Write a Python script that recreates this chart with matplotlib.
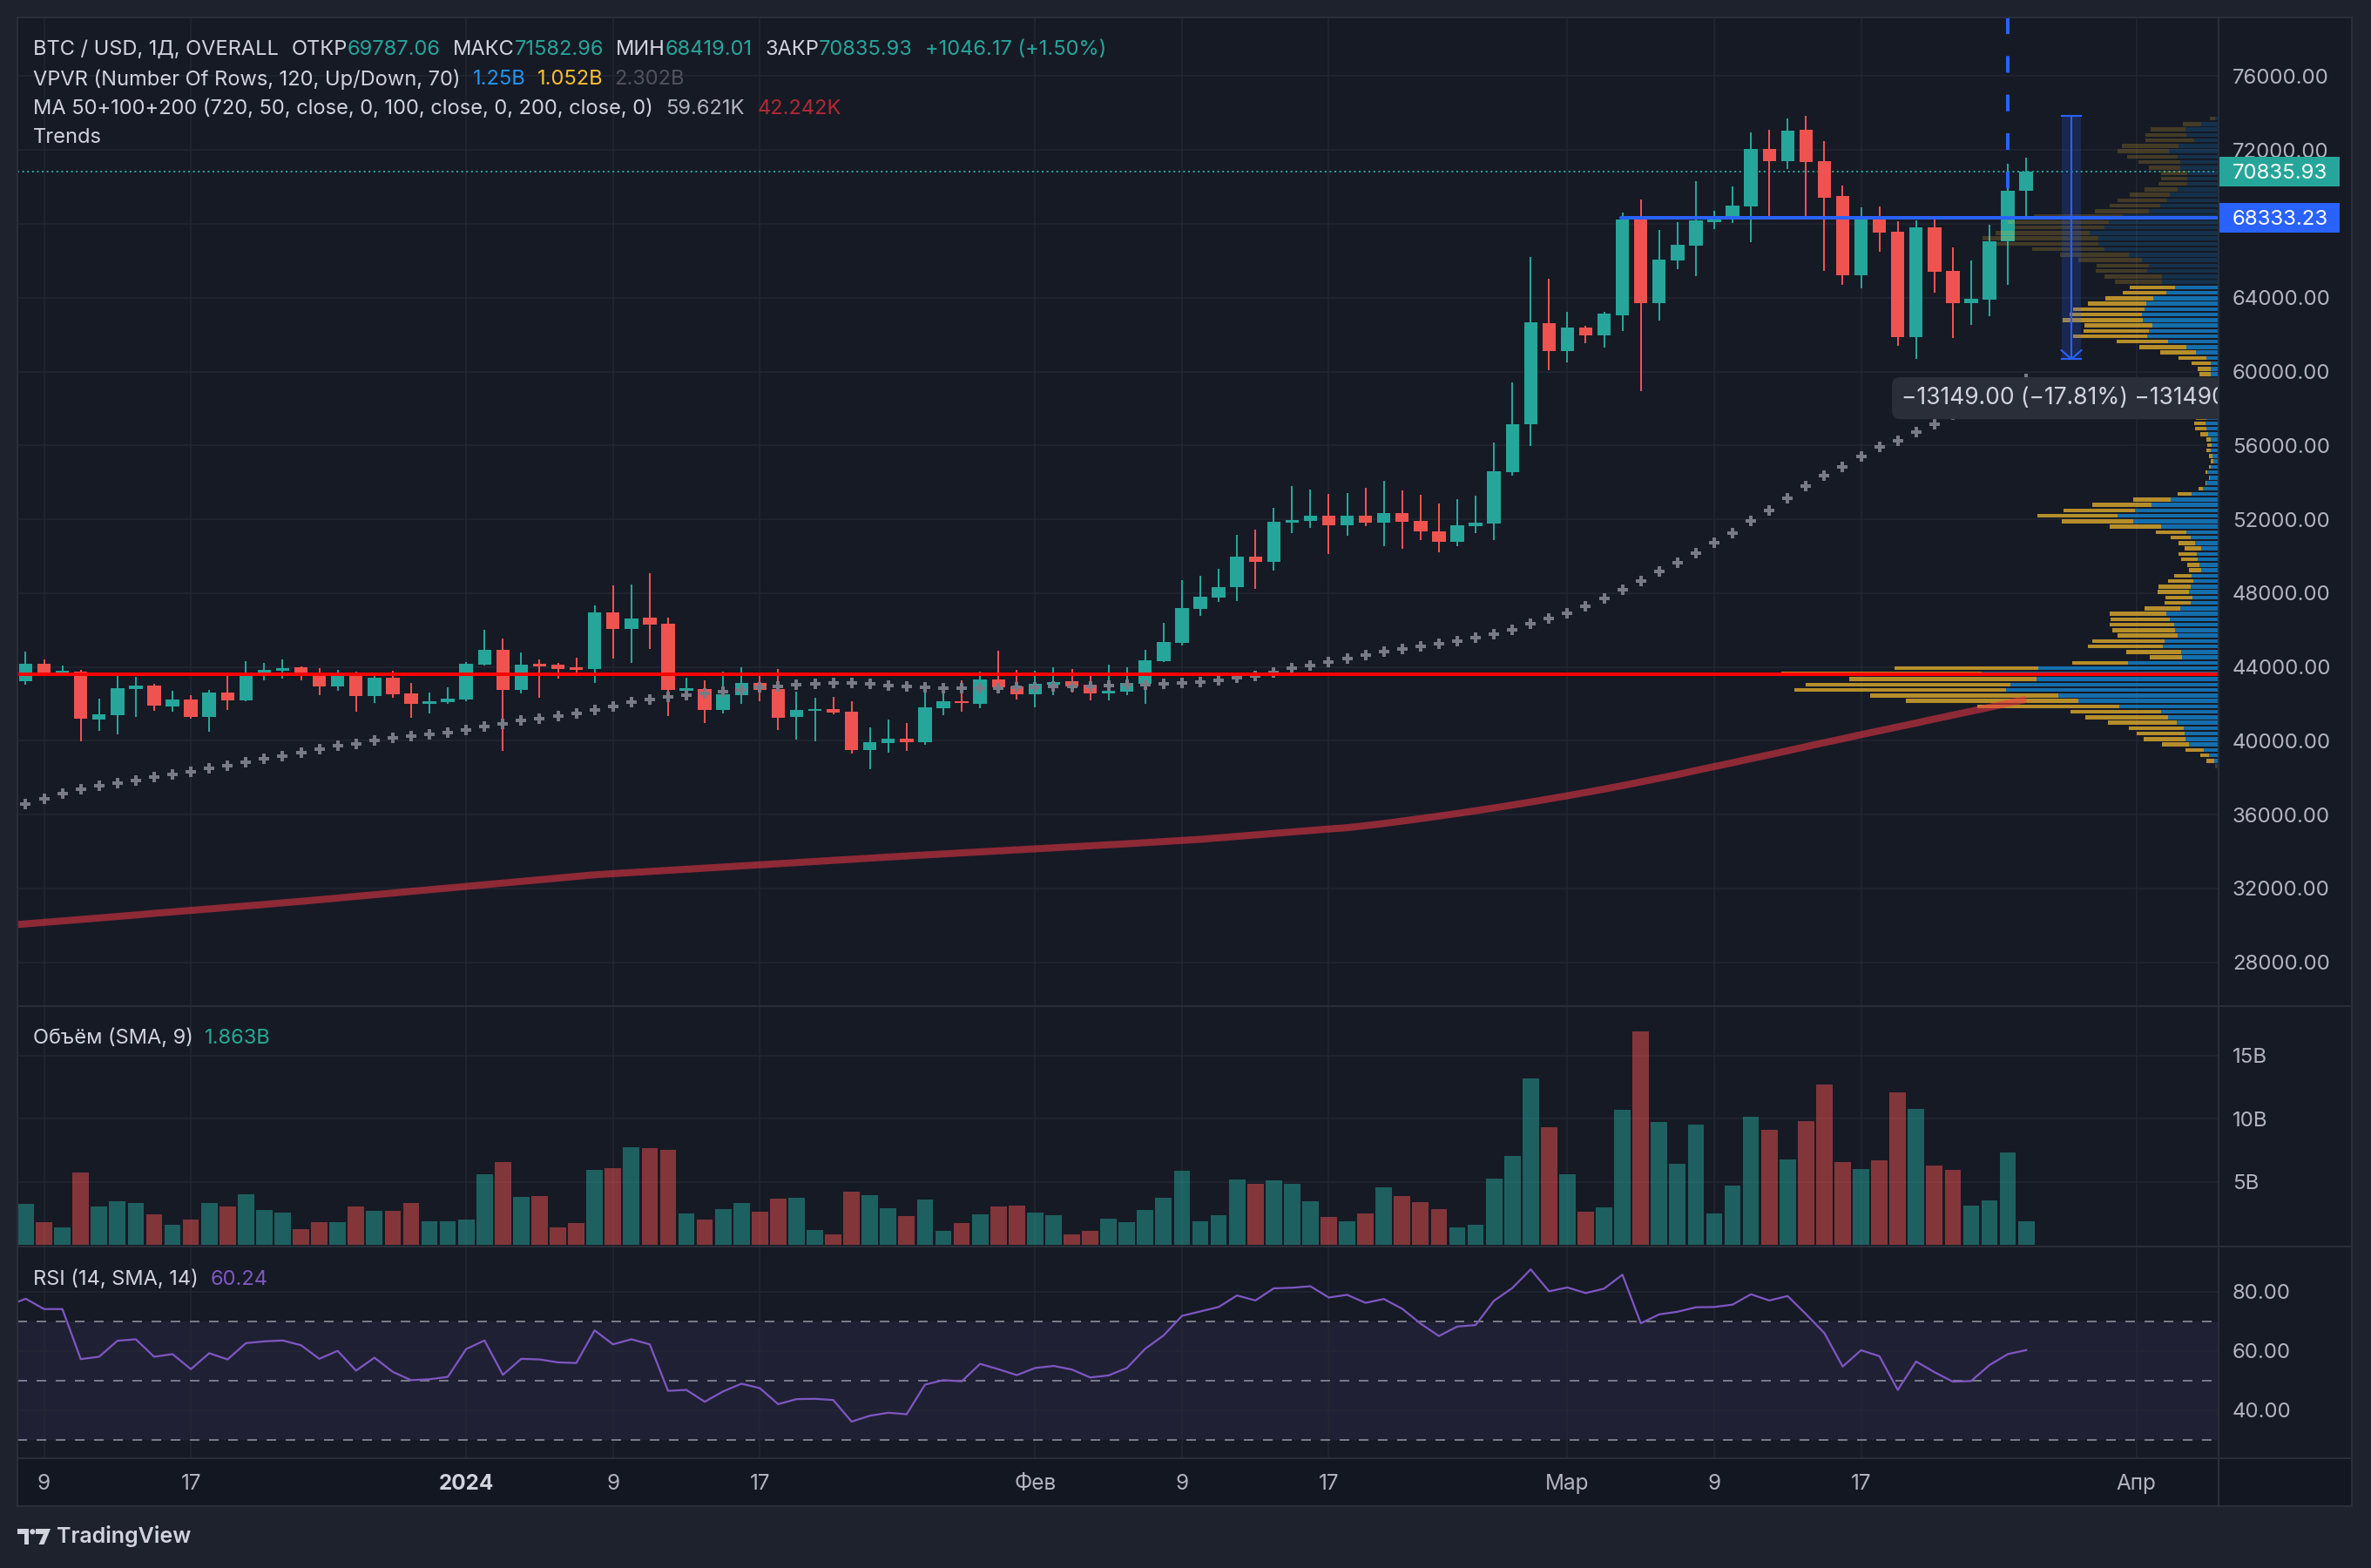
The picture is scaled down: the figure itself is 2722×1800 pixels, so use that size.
import matplotlib
matplotlib.use("Agg")
import matplotlib.pyplot as plt
import matplotlib.transforms as mtransforms
from matplotlib.colors import to_rgba
from matplotlib.lines import Line2D
from matplotlib.patches import Rectangle, Polygon, Ellipse
from matplotlib.ticker import FormatStrFormatter
import numpy as np
import pandas as pd

plt.rcParams["font.family"] = ["Inter", "DejaVu Sans"]

# ---------------- data (daily bars, Dec 7 2023 .. Mar 26 2024) ----------------
dates = pd.date_range("2023-12-07", "2024-03-26", freq="D")

opens = [43770,
         43242, 44170, 43698, 43745, 41150, 41401, 42801, 42990, 41873, 42235,
         41307, 42613, 42204, 43698, 43808, 43981, 43698, 42943, 43698, 42424,
         43415, 42566, 42000, 42093, 42235, 44123, 44925, 42754, 44170, 44123,
         43981, 43887, 46954, 46057, 46666, 46340, 42707, 42801, 41669, 42471,
         43132, 42801, 41292, 41622, 41716, 41575, 39498, 39876, 40112, 39923,
         41763, 42140, 42010, 43320, 42947, 42533, 43050, 43226, 43037, 42565,
         42660, 43085, 44311, 45300, 47143, 47770, 48337, 49973, 49705, 51830,
         51925, 52192, 51688, 52192, 51830, 52334, 51909, 51343, 50791, 51640,
         51783, 54567, 57163, 62621, 61127, 62385, 61960, 63062, 68237, 63706,
         66019, 66821, 68095, 68425, 68945, 72059, 71398, 73098, 71398, 69511,
         65216, 68237, 67576, 61866, 67812, 65452, 63706, 63895, 67034, 69787.06]

highs = [44050,
         44815, 44406, 44076, 43840, 42282, 43509, 43462, 43085, 42707, 42471,
         42754, 43509, 44311, 44217, 44406, 44028, 43934, 43840, 43745, 43509,
         43793, 43132, 42613, 42896, 44264, 46010, 45538, 44784, 44406, 44217,
         44500, 47332, 48417, 48455, 49068, 46671, 43415, 43273, 43745, 43981,
         43509, 43887, 42660, 42330, 42377, 42141, 40725, 41150, 40961, 42849,
         42613, 43273, 43745, 44878, 43820, 43790, 43980, 43886, 43509, 44108,
         43980, 44925, 46385, 48700, 48935, 49313, 51153, 51452, 52617, 53797,
         53608, 53372, 53419, 53702, 54080, 53561, 53325, 52853, 53089, 53278,
         56157, 59412, 66207, 65028, 63235, 62480, 63235, 68614, 69322, 67671,
         68095, 70313, 68708, 70030, 72956, 73098, 73711, 73853, 72484, 70077,
         68897, 68944, 68142, 68190, 68237, 66727, 66019, 67953, 71250, 71582.96]

lows = [42830,
        43037, 43550, 43560, 39985, 40536, 40363, 41307, 41637, 41590, 41197,
        40505, 41669, 42141, 43273, 43368, 43273, 42471, 42707, 41574, 42046,
        42320, 41244, 41480, 42000, 42141, 44076, 39451, 42566, 42330, 43368,
        43698, 43132, 44453, 44217, 44972, 41339, 42188, 40961, 41500, 42000,
        42141, 40584, 40064, 39970, 41433, 39309, 38476, 39356, 39451, 39781,
        41400, 41590, 41780, 42565, 42250, 41830, 42487, 42613, 42187, 42187,
        42487, 42013, 44250, 45150, 46780, 47534, 47581, 48243, 49233, 51263,
        51531, 50130, 51106, 51640, 50555, 50413, 50885, 50225, 50555, 51263,
        50885, 54379, 55983, 60073, 60513, 61536, 61300, 62196, 58963, 62762,
        65547, 65169, 67718, 68048, 67010, 68425, 70974, 68426, 65452, 64697,
        64509, 66491, 61394, 60686, 64273, 61819, 62527, 63000, 64690, 68419.01]

closes = [43240,
          44170, 43714, 43745, 41197, 41433, 42849, 42990, 41920, 42235, 41307,
          42613, 42204, 43698, 43840, 43934, 43698, 42943, 43698, 42424, 43415,
          42518, 42000, 42141, 42282, 44170, 44925, 42754, 44123, 44028, 43887,
          43840, 46954, 46057, 46624, 46284, 42754, 42849, 41669, 42518, 43132,
          42754, 41244, 41669, 41716, 41527, 39498, 39923, 40112, 39923, 41810,
          42141, 42030, 43320, 42910, 42533, 43085, 43165, 42957, 42580, 42721,
          43132, 44359, 45345, 47190, 47803, 48322, 49973, 49705, 51862, 51956,
          52192, 51688, 52192, 51830, 52334, 51862, 51343, 50791, 51673, 51815,
          54605, 57163, 62668, 61127, 62385, 61960, 63140, 68237, 63706, 66066,
          66868, 68190, 68331, 68992, 72059, 71398, 73051, 71351, 69433, 65216,
          68237, 67545, 61866, 67812, 65405, 63706, 63942, 67057, 69787, 70835.93]

ma50 = [36300,
        36586, 36870, 37153, 37389, 37547, 37718, 37860, 38049, 38190, 38332,
        38507, 38649, 38852, 39041, 39183, 39371, 39560, 39717, 39843, 40031,
        40173, 40268, 40362, 40456, 40598, 40787, 40928, 41086, 41211, 41353,
        41494, 41683, 41872, 42108, 42249, 42391, 42485, 42580, 42674, 42768,
        42880, 42943, 43052, 43099, 43146, 43146, 43090, 43004, 42960, 42905,
        42870, 42840, 42850, 42860, 42880, 42910, 42950, 42950, 42940, 42970,
        43036, 43036, 43085, 43117, 43193, 43273, 43400, 43509, 43713, 43918,
        44090, 44278, 44467, 44656, 44845, 44986, 45128, 45270, 45411, 45600,
        45789, 46025, 46355, 46624, 46907, 47300, 47720, 48180, 48650, 49150,
        49658, 50163, 50714, 51263, 51895, 52490, 53150, 53782, 54377, 54849,
        55386, 55905, 56265, 56737, 57162, 57650, 58150, 58650, 59140, 59621]

ma200 = [30000,
         30080, 30160, 30240, 30320, 30400, 30480, 30560, 30650, 30730, 30810,
         30890, 30970, 31050, 31130, 31220, 31300, 31390, 31480, 31570, 31660,
         31750, 31840, 31930, 32020, 32110, 32200, 32290, 32380, 32470, 32560,
         32650, 32740, 32800, 32860, 32920, 32980, 33040, 33100, 33160, 33220,
         33280, 33340, 33400, 33460, 33520, 33580, 33640, 33700, 33760, 33815,
         33870, 33925, 33980, 34035, 34090, 34145, 34200, 34255, 34310, 34365,
         34420, 34480, 34540, 34600, 34660, 34740, 34820, 34900, 34980, 35060,
         35140, 35220, 35290, 35400, 35520, 35650, 35780, 35920, 36060, 36210,
         36360, 36520, 36680, 36850, 37020, 37200, 37380, 37570, 37770, 37970,
         38170, 38390, 38600, 38810, 39030, 39240, 39460, 39680, 39900, 40110,
         40330, 40540, 40750, 40960, 41180, 41390, 41600, 41810, 42030, 42242]

volume_b = [2.50,
            3.26, 1.81, 1.39, 5.74, 3.05, 3.46, 3.32, 2.43, 1.60, 2.01,
            3.32, 3.05, 4.01, 2.77, 2.57, 1.26, 1.81, 1.81, 3.05, 2.70,
            2.70, 3.32, 1.88, 1.88, 2.01, 5.60, 6.57, 3.81, 3.88, 1.39,
            1.74, 5.95, 6.08, 7.74, 7.67, 7.53, 2.50, 2.01, 2.84, 3.32,
            2.64, 3.67, 3.74, 1.19, 0.85, 4.22, 3.95, 2.91, 2.29, 3.60,
            1.12, 1.74, 2.43, 3.05, 3.12, 2.57, 2.36, 0.85, 1.12, 2.08,
            1.81, 2.77, 3.74, 5.88, 1.88, 2.36, 5.19, 4.84, 5.12, 4.84,
            3.46, 2.22, 1.88, 2.50, 4.57, 3.88, 3.39, 2.84, 1.39, 1.60,
            5.26, 7.05, 13.19, 9.33, 5.60, 2.64, 2.98, 10.71, 16.92, 9.74,
            6.43, 9.53, 2.50, 4.70, 10.15, 9.12, 6.77, 9.81, 12.71, 6.57,
            6.02, 6.71, 12.09, 10.78, 6.29, 5.95, 3.12, 3.53, 7.33, 1.88]

rsi = [75.1,
       77.6, 74.1, 74.1, 57.2, 58.0, 63.4, 63.9, 58.0, 58.9, 53.8,
       59.2, 57.1, 62.6, 63.2, 63.5, 61.9, 57.3, 60.0, 53.3, 57.7,
       52.9, 50.1, 50.4, 51.2, 60.6, 63.5, 51.9, 57.3, 57.1, 56.1,
       55.9, 66.9, 62.2, 63.9, 62.2, 46.5, 46.8, 42.8, 46.3, 48.9,
       47.4, 42.0, 43.7, 43.8, 43.4, 36.1, 38.1, 39.1, 38.6, 48.6,
       50.1, 49.7, 55.6, 53.8, 51.8, 54.2, 54.9, 53.7, 51.0, 51.7,
       54.2, 60.7, 65.2, 71.8, 73.3, 74.8, 78.7, 77.0, 81.1, 81.3,
       81.8, 78.0, 78.9, 76.2, 77.5, 74.2, 69.2, 65.0, 68.2, 68.7,
       76.9, 81.2, 87.5, 80.1, 81.4, 79.5, 81.0, 85.7, 69.3, 72.3,
       73.2, 74.7, 74.8, 75.6, 79.1, 77.0, 78.5, 72.4, 66.0, 54.7,
       60.2, 58.2, 46.8, 56.4, 52.8, 49.6, 49.8, 55.2, 58.9, 60.24]

# visible-range volume profile, 120 rows from low to high (millions)
VP_LOW, VP_HIGH = 38476, 73853
vp_down = [9, 41, 46, 97, 143, 221, 253, 290, 363, 437,
           478, 745, 906, 989, 1113, 1076, 989, 1052, 759, 294,
           170, 290, 396, 382, 317, 331, 340, 313, 299, 189,
           138, 143, 166, 170, 133, 92, 64, 64, 87, 97,
           87, 87, 106, 161, 271, 377, 419, 373, 313, 198,
           74, 23, 6, 5, 11, 11, 14, 17, 23, 21,
           23, 41, 60, 60, 55, 51, 55, 60, 55, 60,
           55, 55, 58, 69, 97, 143, 187, 248, 271, 391,
           345, 359, 423, 382, 377, 308, 253, 230, 239, 248,
           304, 271, 276, 336, 359, 377, 534, 607, 492, 474,
           529, 469, 285, 267, 262, 212, 175, 152, 138, 138,
           166, 221, 267, 271, 299, 258, 216, 184, 97, 28]
vp_up = [9, 23, 51, 78, 156, 175, 179, 184, 221, 267,
         304, 524, 741, 846, 1122, 1099, 957, 1250, 948, 478,
         193, 198, 294, 285, 216, 230, 235, 258, 276, 202,
         147, 138, 156, 147, 133, 143, 92, 101, 110, 115,
         92, 124, 147, 170, 304, 451, 534, 442, 354, 253,
         143, 83, 64, 46, 60, 41, 28, 34, 41, 38,
         41, 55, 64, 69, 64, 60, 55, 51, 51, 46,
         46, 41, 43, 40, 43, 66, 120, 169, 267, 377,
         368, 350, 400, 405, 391, 382, 345, 276, 230, 299,
         299, 377, 368, 405, 474, 603, 635, 635, 681, 603,
         580, 506, 368, 308, 271, 258, 216, 166, 166, 166,
         202, 202, 216, 262, 212, 129, 170, 175, 92, 18]
VA_FIRST_ROW, VA_LAST_ROW = 1, 88

# drawings
RED_LEVEL = 43620
BLUE_LEVEL = 68333.23
BLUE_FROM = "2024-03-03 22:00"
VLINE_AT = "2024-03-25"
VLINE_BOTTOM = 69787.06
MEASURE_AT = "2024-03-28 11:00"
MEASURE_TOP, MEASURE_BOTTOM = 73829, 60680

PRICE_TICKS = list(range(28000, 76001, 4000))
VOL_TICKS = [5, 10, 15]
RSI_GRID = [40, 60, 80]
TIME_TICKS = [("2023-12-09", "9"), ("2023-12-17", "17"), ("2024-01-01", "2024"),
              ("2024-01-09", "9"), ("2024-01-17", "17"), ("2024-02-01", "Фев"),
              ("2024-02-09", "9"), ("2024-02-17", "17"), ("2024-03-01", "Мар"),
              ("2024-03-09", "9"), ("2024-03-17", "17"), ("2024-04-01", "Апр")]

# ---------------- style / layout ----------------
W, H = 2722, 1800
PANE_L, PANE_R, AXIS_R = 20, 2547, 2700
MAIN_T, MAIN_B, VOL_B, RSI_B, TIME_B = 20, 1155, 1431, 1674, 1729
XLIM = (-0.45, 119.48)
PRICE_LIM = (25624, 79185)
VOL_LIM = (-0.124, 18.91)
RSI_LIM = (23.74, 95.2)

OUTER_BG = "#1e222d"
PANE_BG = "#161a25"
TIME_BG = "#131722"
GRID = "#232733"
SEP = "#2a2e39"
TXT = "#d1d4dc"
AXIS_TXT = "#b2b5be"
UP, DOWN = "#26a69a", "#ef5350"
BLUE = "#2962ff"
AXIS_FS = 17.3
LEG_FS = 17
TIME_FS = 17.5
LABEL_PAD_PX = 16

X0 = pd.Timestamp("2023-12-08")


def xpos(d):
    return (pd.Timestamp(d) - X0) / pd.Timedelta(days=1)


def rect(x0, y0, x1, y1):
    return [x0 / W, 1 - y1 / H, (x1 - x0) / W, (y1 - y0) / H]


x = np.array([xpos(d) for d in dates])
o, h, l, c = (np.array(a, dtype=float) for a in (opens, highs, lows, closes))
rising = c >= o
cols = np.where(rising, UP, DOWN)

fig = plt.figure(figsize=(W / 100, H / 100), dpi=100, facecolor=OUTER_BG)
fig.add_artist(Rectangle((PANE_L / W, 1 - TIME_B / H), (AXIS_R - PANE_L) / W, (TIME_B - MAIN_T) / H,
                         transform=fig.transFigure, facecolor=PANE_BG, edgecolor="none", zorder=-2))
fig.add_artist(Rectangle((PANE_L / W, 1 - TIME_B / H), (AXIS_R - PANE_L) / W, (TIME_B - RSI_B) / H,
                         transform=fig.transFigure, facecolor=TIME_BG, edgecolor="none", zorder=-1))

ax = fig.add_axes(rect(PANE_L, MAIN_T, PANE_R, MAIN_B), label="price")
ax_vol = fig.add_axes(rect(PANE_L, MAIN_B, PANE_R, VOL_B), sharex=ax, label="volume")
ax_rsi = fig.add_axes(rect(PANE_L, VOL_B, PANE_R, RSI_B), sharex=ax, label="rsi")
ax_time = fig.add_axes(rect(PANE_L, RSI_B, PANE_R, TIME_B), sharex=ax, label="time")
ax_vp = fig.add_axes(rect(PANE_L, MAIN_T, PANE_R, MAIN_B), sharey=ax, label="vpvr")
ax_top = fig.add_axes(rect(PANE_L, MAIN_T, PANE_R, MAIN_B), sharex=ax, sharey=ax, label="drawings")

for a in (ax, ax_vol, ax_rsi, ax_time):
    a.set_facecolor(PANE_BG)
    for s in a.spines.values():
        s.set_visible(False)
    a.tick_params(axis="x", bottom=False, labelbottom=False)
ax_time.set_facecolor(TIME_BG)
ax_time.set_yticks([])
for a in (ax_vp, ax_top):
    a.set_facecolor("none")
    a.axis("off")

ax.set_xlim(*XLIM)
ax.set_ylim(*PRICE_LIM)
ax_vol.set_ylim(*VOL_LIM)
ax_rsi.set_ylim(*RSI_LIM)

# right-hand scales
ax.yaxis.tick_right()
ax.set_yticks(PRICE_TICKS)
ax.yaxis.set_major_formatter(FormatStrFormatter("%.2f"))
ax_vol.yaxis.tick_right()
ax_vol.set_yticks(VOL_TICKS)
ax_vol.set_yticklabels([f"{v}B" for v in VOL_TICKS])
ax_rsi.yaxis.tick_right()
ax_rsi.set_yticks(RSI_GRID)
ax_rsi.yaxis.set_major_formatter(FormatStrFormatter("%.2f"))
for a in (ax, ax_vol, ax_rsi):
    a.tick_params(axis="y", length=0, pad=LABEL_PAD_PX * 0.72, labelsize=AXIS_FS, labelcolor=AXIS_TXT)

# grid
tick_x = [xpos(d) for d, _ in TIME_TICKS]
for a in (ax, ax_vol, ax_rsi):
    for t in tick_x:
        a.axvline(t, color=GRID, lw=1.1, zorder=0.5)
for p in PRICE_TICKS:
    ax.axhline(p, color=GRID, lw=1.1, zorder=0.5)
for v in VOL_TICKS:
    ax_vol.axhline(v, color=GRID, lw=1.1, zorder=0.5)
for r in RSI_GRID:
    ax_rsi.axhline(r, color=GRID, lw=1.1, zorder=0.5)

# ---------------- price pane ----------------
ax.axhline(c[-1], color=UP, lw=1.44, ls=(0, (1, 1.8)), zorder=1)
body_lo = np.minimum(o, c)
body_h = np.maximum(np.abs(c - o), 100)
ax.vlines(x, l, h, colors=cols, lw=1.45, zorder=3)
ax.bar(x, body_h, bottom=body_lo, width=0.73, color=cols, linewidth=0, zorder=3.5)
ax.plot(x, ma50, ls="none", marker="P", ms=8.6, mew=0, color="#787b86", zorder=5)

# volume profile (visible range)
rows = np.arange(len(vp_up))
row_h = (VP_HIGH - VP_LOW) / len(rows)
centers = VP_LOW + (rows + 0.5) * row_h
in_va = (rows >= VA_FIRST_ROW) & (rows <= VA_LAST_ROW)
up_cols = [to_rgba("#1592e6", 0.7 if v else 0.2) for v in in_va]
dn_cols = [to_rgba("#fbc02d", 0.7 if v else 0.2) for v in in_va]
vp_up_a = np.array(vp_up, dtype=float)
vp_dn_a = np.array(vp_down, dtype=float)
ax_vp.barh(centers, vp_up_a, height=row_h * 0.72, left=0, color=up_cols, linewidth=0)
ax_vp.barh(centers, vp_dn_a, height=row_h * 0.72, left=vp_up_a, color=dn_cols, linewidth=0)
ax_vp.set_xlim((vp_up_a + vp_dn_a).max() / 0.1985, 0)

# drawings on top
ppp = (PRICE_LIM[1] - PRICE_LIM[0]) / (MAIN_B - MAIN_T)  # price per pixel
ax_top.plot(x, ma200, color="#f23645", alpha=0.55, lw=5.8, solid_capstyle="butt", zorder=2)
ax_top.axhline(RED_LEVEL, color="#ff0000", lw=2.9, zorder=3)
ax_top.plot([xpos(BLUE_FROM), XLIM[1] + 5], [BLUE_LEVEL, BLUE_LEVEL], color=BLUE, lw=2.9,
            solid_capstyle="round", zorder=3)
xv = xpos(VLINE_AT)
ax_top.plot([xv, xv], [PRICE_LIM[1], VLINE_BOTTOM], color=BLUE, lw=2.9, ls=(0, (4.75, 6.25)), zorder=3)

mx = xpos(MEASURE_AT)
half = 0.54
head = 10 * ppp
ax_top.add_patch(Rectangle((mx - half, MEASURE_BOTTOM), 2 * half, MEASURE_TOP - MEASURE_BOTTOM,
                           facecolor=BLUE, alpha=0.2, linewidth=0, zorder=4))
for xs, ys in (([mx, mx], [MEASURE_TOP, MEASURE_BOTTOM]),
               ([mx - half, mx + half], [MEASURE_TOP, MEASURE_TOP]),
               ([mx - half, mx + half], [MEASURE_BOTTOM, MEASURE_BOTTOM]),
               ([mx - half, mx, mx + half], [MEASURE_BOTTOM + head, MEASURE_BOTTOM, MEASURE_BOTTOM + head])):
    ax_top.plot(xs, ys, color=BLUE, lw=1.5, zorder=5)

diff = MEASURE_BOTTOM - MEASURE_TOP
tip = f"{diff:.2f} ({diff / MEASURE_TOP * 100:.2f}%) {diff * 100:.0f}".replace("-", "\u2212")
tip_off = mtransforms.ScaledTranslation(0, -32 / 100, fig.dpi_scale_trans)
ax_top.text(mx, MEASURE_BOTTOM, tip, transform=ax_top.transData + tip_off, ha="center", va="top",
            fontsize=19, color=TXT, clip_on=True, zorder=6,
            bbox=dict(boxstyle="round,pad=0.42,rounding_size=0.35", facecolor="#2a2e39", edgecolor="none"))

# price tags on the scale
pane_w = PANE_R - PANE_L
tag_tr = mtransforms.blended_transform_factory(ax.transAxes, ax.transData)
for price, color in ((c[-1], UP), (BLUE_LEVEL, BLUE)):
    ax.add_patch(Rectangle((1.0, price - 16.75 * ppp), 139 / pane_w, 33.5 * ppp, transform=tag_tr,
                           facecolor=color, edgecolor="none", clip_on=False, zorder=6))
    ax.text(1.0 + LABEL_PAD_PX / pane_w, price, f"{price:.2f}", transform=tag_tr, ha="left",
            va="center_baseline", fontsize=AXIS_FS, color="white", clip_on=False, zorder=7)

# ---------------- volume pane ----------------
ax_vol.bar(x, volume_b, width=0.89, color=[to_rgba(cc, 0.5) for cc in cols], linewidth=0, zorder=2)

# ---------------- RSI pane ----------------
ax_rsi.axhspan(30, 70, color="#7e57c2", alpha=0.1, lw=0, zorder=0.3)
for lvl in (70, 50, 30):
    ax_rsi.axhline(lvl, color="#787b86", lw=1.44, ls=(0, (5.5, 5.5)), zorder=1)
ax_rsi.plot(x, rsi, color="#7e57c2", lw=1.6, zorder=3)

# ---------------- time scale ----------------
for (d, lab), t in zip(TIME_TICKS, tick_x):
    bold = lab == "2024"
    ax_time.text(t, 0.47, lab, transform=ax_time.get_xaxis_transform(), ha="center", va="center",
                 fontsize=TIME_FS, color=TXT if bold else AXIS_TXT, fontweight="bold" if bold else "normal")

# ---------------- separators ----------------
for yy in (MAIN_T, MAIN_B, VOL_B, RSI_B, TIME_B):
    fig.add_artist(Line2D([PANE_L / W, AXIS_R / W], [1 - yy / H, 1 - yy / H], transform=fig.transFigure,
                          color=SEP, lw=1.5, zorder=10))
for xx in (PANE_L, PANE_R, AXIS_R):
    fig.add_artist(Line2D([xx / W, xx / W], [1 - MAIN_T / H, 1 - TIME_B / H], transform=fig.transFigure,
                          color=SEP, lw=1.5, zorder=10))

# ---------------- legends ----------------
renderer = fig.canvas.get_renderer()


def legend_line(x_px, y_px, parts, size=LEG_FS):
    xx = x_px
    for txt, color, gap in parts:
        t = fig.text(xx / W, 1 - y_px / H, txt, color=color, fontsize=size, ha="left", va="center", zorder=12)
        xx += t.get_window_extent(renderer).width + gap


legend_line(37.5, 57, [("BTC / USD, 1Д, OVERALL", TXT, 15), ("ОТКР", TXT, 0), ("69787.06", UP, 14),
                       ("МАКС", TXT, 0), ("71582.96", UP, 14), ("МИН", TXT, 0), ("68419.01", UP, 14),
                       ("ЗАКР", TXT, 0), ("70835.93", UP, 14), ("+1046.17 (+1.50%)", UP, 0)])
legend_line(37.5, 91, [("VPVR (Number Of Rows, 120, Up/Down, 70)", TXT, 15), ("1.25B", "#2196f3", 13),
                       ("1.052B", "#fbc02d", 13), ("2.302B", "#50535e", 0)])
legend_line(37.5, 125, [("MA 50+100+200 (720, 50, close, 0, 100, close, 0, 200, close, 0)", TXT, 15),
                        (f"{ma50[-1] / 1000:.3f}K", AXIS_TXT, 15), (f"{ma200[-1] / 1000:.3f}K", "#b22833", 0)])
legend_line(37.5, 158, [("Trends", TXT, 0)])
legend_line(37.5, 1192, [("Объём (SMA, 9)", TXT, 14), ("1.863B", "#22ab94", 0)])
legend_line(37.5, 1469, [("RSI (14, SMA, 14)", TXT, 14), (f"{rsi[-1]:.2f}", "#7e57c2", 0)])

# ---------------- TradingView mark ----------------
LOGO = "#d1d4dc"


def px_poly(pts):
    fig.add_artist(Polygon([(px / W, 1 - py / H) for px, py in pts], closed=True, transform=fig.transFigure,
                           facecolor=LOGO, edgecolor="none", zorder=12))


px_poly([(20, 1755), (33, 1755), (33, 1773), (27.5, 1773), (27.5, 1761), (20, 1761)])
px_poly([(41, 1755), (58, 1755), (50.5, 1773), (44.5, 1773), (50, 1761), (41, 1761)])
fig.add_artist(Ellipse((37.3 / W, 1 - 1758.3 / H), 6.2 / W, 6.2 / H, transform=fig.transFigure,
                       facecolor=LOGO, edgecolor="none", zorder=12))
fig.text(65 / W, 1 - 1764 / H, "TradingView", color=LOGO, fontsize=18, fontweight="semibold",
         ha="left", va="center", zorder=12)

fig.savefig("out.png", dpi=100, facecolor=OUTER_BG)
